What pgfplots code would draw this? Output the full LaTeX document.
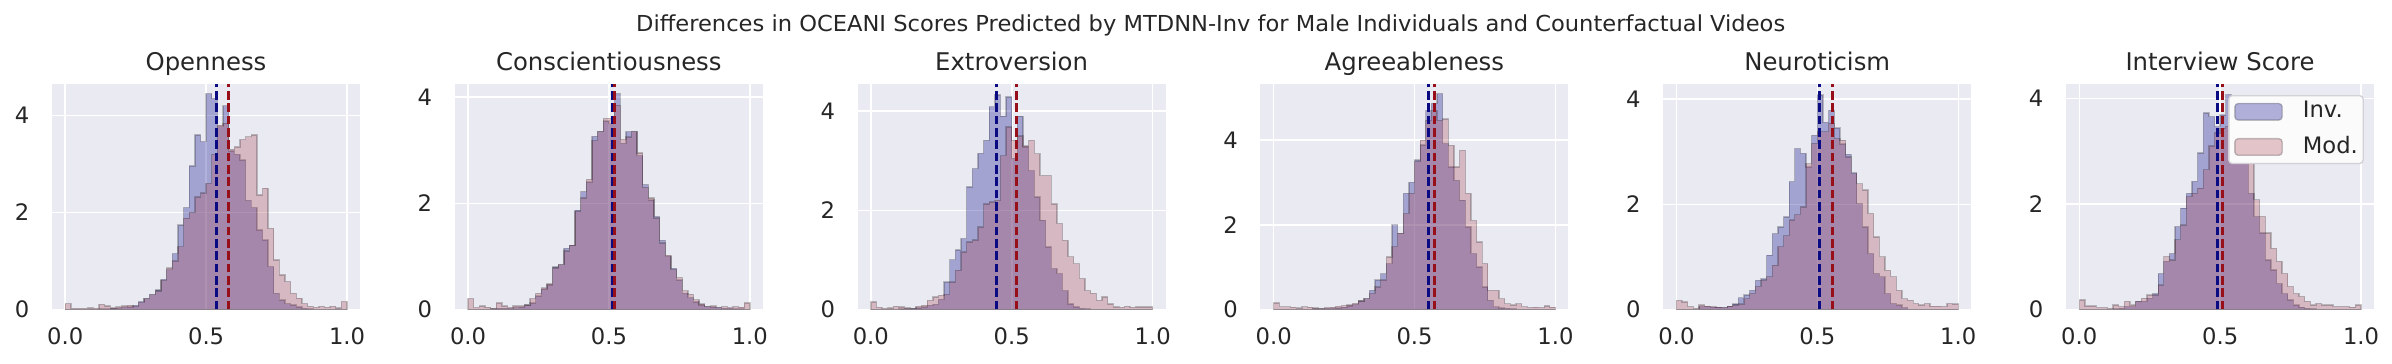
\documentclass[border=0pt]{standalone}
\usepackage{fontspec}
\setmainfont{DejaVu Sans}
\usepackage{graphicx}
\usepackage{xcolor}
\usepackage{pgfplots}
\usepackage{pgfplotstable}
\pgfplotsset{compat=1.18}

\definecolor{sbbg}{RGB}{234,234,242}
\definecolor{txt}{RGB}{38,38,38}
\definecolor{invfill}{RGB}{0,0,139}
\definecolor{modfill}{RGB}{171,71,85}
\definecolor{invline}{RGB}{10,10,130}
\definecolor{modline}{RGB}{150,15,25}
\definecolor{legedge}{RGB}{210,210,214}

\newcommand\titlefont{\fontsize{7.3}{8.5}\selectfont}
\newcommand\tickfont{\fontsize{6.8}{8}\selectfont}

% histogram densities, bins of 0.02 (left edges), last row closes the last bin
\pgfplotstableread{
x    inv  mod
0.00 0.00 0.12
0.02 0.00 0.02
0.04 0.00 0.02
0.06 0.00 0.02
0.08 0.00 0.03
0.10 0.00 0.02
0.12 0.01 0.10
0.14 0.01 0.07
0.16 0.02 0.03
0.18 0.02 0.05
0.20 0.04 0.07
0.22 0.05 0.08
0.24 0.08 0.06
0.26 0.16 0.14
0.28 0.22 0.22
0.30 0.30 0.30
0.32 0.40 0.38
0.34 0.62 0.60
0.36 0.82 0.85
0.38 1.15 1.00
0.40 1.74 1.29
0.42 2.10 1.88
0.44 2.96 2.00
0.46 3.60 2.32
0.48 3.46 2.40
0.50 4.45 2.60
0.52 4.35 3.20
0.54 3.77 3.80
0.56 4.20 3.84
0.58 3.27 3.30
0.60 3.20 3.35
0.62 3.08 3.50
0.64 2.25 3.56
0.66 2.10 3.60
0.68 1.64 2.36
0.70 1.43 2.50
0.72 0.88 1.67
0.74 0.33 1.02
0.76 0.19 0.71
0.78 0.12 0.57
0.80 0.09 0.33
0.82 0.05 0.23
0.84 0.02 0.12
0.86 0.01 0.06
0.88 0.00 0.04
0.90 0.00 0.06
0.92 0.00 0.04
0.94 0.00 0.06
0.96 0.00 0.03
0.98 0.00 0.16
1.00 0.00 0.16
}\tabO

\pgfplotstableread{
x    inv  mod
0.00 0.00 0.20
0.02 0.00 0.03
0.04 0.00 0.06
0.06 0.00 0.04
0.08 0.01 0.02
0.10 0.02 0.12
0.12 0.02 0.06
0.14 0.02 0.03
0.16 0.03 0.06
0.18 0.04 0.06
0.20 0.08 0.08
0.22 0.12 0.20
0.24 0.25 0.30
0.26 0.38 0.40
0.28 0.46 0.48
0.30 0.80 0.78
0.32 0.84 0.84
0.34 1.15 1.10
0.36 1.21 1.21
0.38 1.87 1.85
0.40 2.22 2.10
0.42 2.40 2.45
0.44 3.26 3.18
0.46 3.35 3.35
0.48 3.55 3.60
0.50 3.50 3.60
0.52 4.07 3.85
0.54 3.13 3.20
0.56 3.35 3.25
0.58 3.35 3.35
0.60 2.90 2.95
0.62 2.35 2.30
0.64 2.06 2.10
0.66 1.75 1.72
0.68 1.30 1.25
0.70 1.00 1.02
0.72 0.77 0.75
0.74 0.55 0.60
0.76 0.30 0.35
0.78 0.22 0.28
0.80 0.14 0.18
0.82 0.08 0.10
0.84 0.05 0.05
0.86 0.04 0.06
0.88 0.03 0.03
0.90 0.02 0.05
0.92 0.02 0.03
0.94 0.01 0.05
0.96 0.01 0.04
0.98 0.00 0.12
1.00 0.00 0.12
}\tabC

\pgfplotstableread{
x    inv  mod
0.00 0.00 0.15
0.02 0.00 0.04
0.04 0.00 0.02
0.06 0.00 0.03
0.08 0.00 0.06
0.10 0.01 0.05
0.12 0.01 0.03
0.14 0.02 0.02
0.16 0.03 0.06
0.18 0.05 0.08
0.20 0.08 0.18
0.22 0.10 0.25
0.24 0.20 0.28
0.26 0.55 0.30
0.28 1.00 0.55
0.30 1.20 0.79
0.32 1.43 1.16
0.34 2.47 1.36
0.36 2.84 1.40
0.38 3.15 1.66
0.40 3.41 2.13
0.42 4.09 2.17
0.44 4.33 2.20
0.46 3.90 3.10
0.48 4.29 3.68
0.50 3.05 3.41
0.52 3.90 3.50
0.54 3.28 3.30
0.56 2.80 3.41
0.58 2.27 3.14
0.60 1.80 2.70
0.62 1.26 2.70
0.64 0.82 2.13
0.66 0.72 1.73
0.68 0.38 1.39
0.70 0.11 1.06
0.72 0.05 0.92
0.74 0.02 0.62
0.76 0.01 0.38
0.78 0.00 0.32
0.80 0.00 0.18
0.82 0.00 0.25
0.84 0.00 0.11
0.86 0.00 0.05
0.88 0.00 0.04
0.90 0.00 0.06
0.92 0.00 0.04
0.94 0.00 0.05
0.96 0.00 0.05
0.98 0.00 0.05
1.00 0.00 0.05
}\tabE

\pgfplotstableread{
x    inv  mod
0.00 0.00 0.15
0.02 0.00 0.06
0.04 0.00 0.06
0.06 0.00 0.05
0.08 0.00 0.03
0.10 0.00 0.06
0.12 0.00 0.05
0.14 0.01 0.03
0.16 0.01 0.02
0.18 0.02 0.04
0.20 0.02 0.05
0.22 0.03 0.07
0.24 0.05 0.09
0.26 0.08 0.10
0.28 0.12 0.14
0.30 0.20 0.20
0.32 0.25 0.25
0.34 0.45 0.37
0.36 0.69 0.53
0.38 0.84 0.69
0.40 1.08 1.24
0.42 2.00 1.48
0.44 1.79 1.80
0.46 2.74 2.26
0.48 3.00 2.74
0.50 3.53 3.50
0.52 3.89 4.00
0.54 4.70 4.47
0.56 4.87 4.70
0.58 5.10 4.47
0.60 3.92 4.50
0.62 3.37 3.88
0.64 3.05 3.37
0.66 2.58 3.76
0.68 1.95 2.74
0.70 1.32 2.10
0.72 1.00 1.59
0.74 0.53 1.08
0.76 0.21 0.45
0.78 0.06 0.45
0.80 0.03 0.25
0.82 0.02 0.13
0.84 0.01 0.10
0.86 0.00 0.13
0.88 0.00 0.06
0.90 0.00 0.04
0.92 0.00 0.05
0.94 0.00 0.04
0.96 0.00 0.08
0.98 0.00 0.05
1.00 0.00 0.05
}\tabA

\pgfplotstableread{
x    inv  mod
0.00 0.00 0.17
0.02 0.00 0.14
0.04 0.00 0.05
0.06 0.00 0.02
0.08 0.05 0.08
0.10 0.05 0.06
0.12 0.04 0.05
0.14 0.04 0.04
0.16 0.03 0.03
0.18 0.06 0.06
0.20 0.10 0.08
0.22 0.22 0.10
0.24 0.27 0.20
0.26 0.36 0.30
0.28 0.55 0.43
0.30 0.58 0.55
0.32 1.03 0.62
0.34 1.44 0.84
0.36 1.57 1.19
0.38 1.76 1.40
0.40 2.43 1.70
0.42 3.06 1.80
0.44 2.97 1.95
0.46 2.71 2.77
0.48 3.31 3.16
0.50 4.08 3.38
0.52 3.56 3.38
0.54 3.79 3.54
0.56 3.45 3.25
0.58 3.15 3.22
0.60 2.95 2.90
0.62 2.60 2.58
0.64 2.01 2.39
0.66 1.57 2.27
0.68 1.06 1.82
0.70 0.68 1.38
0.72 0.62 1.00
0.74 0.30 0.74
0.76 0.11 0.62
0.78 0.08 0.36
0.80 0.03 0.20
0.82 0.00 0.17
0.84 0.00 0.11
0.86 0.00 0.08
0.88 0.00 0.11
0.90 0.00 0.06
0.92 0.00 0.06
0.94 0.00 0.05
0.96 0.00 0.11
0.98 0.00 0.10
1.00 0.00 0.10
}\tabN

\pgfplotstableread{
x    inv  mod
0.00 0.00 0.18
0.02 0.00 0.06
0.04 0.00 0.06
0.06 0.00 0.03
0.08 0.00 0.03
0.10 0.00 0.02
0.12 0.01 0.08
0.14 0.02 0.05
0.16 0.05 0.15
0.18 0.05 0.08
0.20 0.15 0.15
0.22 0.15 0.21
0.24 0.21 0.27
0.26 0.30 0.27
0.28 0.68 0.46
0.30 0.91 1.00
0.32 1.06 0.94
0.34 1.57 1.32
0.36 1.92 1.60
0.38 2.20 2.14
0.40 2.43 2.20
0.42 2.97 2.30
0.44 3.73 2.65
0.46 3.66 3.10
0.48 3.47 3.35
0.50 3.69 3.44
0.52 4.08 3.47
0.54 3.47 3.22
0.56 3.20 3.06
0.58 2.84 2.78
0.60 2.20 2.78
0.62 1.76 2.08
0.64 1.45 1.76
0.66 0.94 1.45
0.68 0.75 1.16
0.70 0.49 0.91
0.72 0.30 0.68
0.74 0.18 0.43
0.76 0.08 0.30
0.78 0.04 0.24
0.80 0.02 0.15
0.82 0.01 0.08
0.84 0.00 0.11
0.86 0.00 0.08
0.88 0.00 0.08
0.90 0.00 0.05
0.92 0.00 0.05
0.94 0.00 0.05
0.96 0.00 0.04
0.98 0.00 0.08
1.00 0.00 0.08
}\tabI

\pgfplotsset{
  panel/.style={
    scale only axis, width=92.4pt, height=67.6pt,
    anchor=south west,
    xmin=-0.047, xmax=1.046, ymin=0,
    xtick={0,0.5,1}, xticklabels={0.0,0.5,1.0},
    ytick={0,2,4}, yticklabels={0,2,4},
    axis background/.style={fill=sbbg},
    axis line style={draw=none},
    major tick length=0pt,
    grid=major, major grid style={white, line width=0.45pt},
    tick label style={font=\tickfont, text=txt},
    xticklabel style={anchor=base, inner sep=0pt, yshift=-10.7pt},
    yticklabel style={anchor=east, inner sep=0pt, xshift=-6.6pt},
    every axis title/.style={at={(0.5,1)}, anchor=base, yshift=4.0pt, font=\titlefont, text=txt},
  },
  invhist/.style={const plot, fill=invfill, fill opacity=0.3, draw=black, draw opacity=0.22, line width=0.4pt},
  modhist/.style={const plot, fill=modfill, fill opacity=0.3, draw=black, draw opacity=0.22, line width=0.4pt},
  invmean/.style={invline, line width=0.9pt, dash pattern=on 2.6pt off 1.1pt, forget plot},
  modmean/.style={modline, line width=0.9pt, dash pattern=on 2.6pt off 1.1pt, forget plot},
}

\begin{document}
\begin{tikzpicture}
\useasboundingbox (0,0) rectangle (717.6pt,109.2pt);

\node[anchor=base, font=\fontsize{6.6}{8}\selectfont, text=txt, inner sep=0pt] at (363.2pt,99.6pt)
  {\resizebox{344.7pt}{\height}{Differences in OCEANI Scores Predicted by MTDNN-Inv for Male Individuals and Counterfactual Videos}};

\begin{axis}[panel, at={(15.6pt,16.4pt)}, ymax=4.65, title={Openness}]
\addplot[invhist] table[x=x, y=inv] {\tabO} \closedcycle;
\addplot[modhist] table[x=x, y=mod] {\tabO} \closedcycle;
\addplot[invmean] coordinates {(0.538,0) (0.538,4.65)};
\addplot[modmean] coordinates {(0.581,0) (0.581,4.65)};
\end{axis}

\begin{axis}[panel, at={(136.44pt,16.4pt)}, ymax=4.25, title={Conscientiousness}]
\addplot[invhist] table[x=x, y=inv] {\tabC} \closedcycle;
\addplot[modhist] table[x=x, y=mod] {\tabC} \closedcycle;
\addplot[invmean] coordinates {(0.513,0) (0.513,4.25)};
\addplot[modmean] coordinates {(0.521,0) (0.521,4.25)};
\end{axis}

\begin{axis}[panel, at={(257.28pt,16.4pt)}, ymax=4.55, title={Extroversion}]
\addplot[invhist] table[x=x, y=inv] {\tabE} \closedcycle;
\addplot[modhist] table[x=x, y=mod] {\tabE} \closedcycle;
\addplot[invmean] coordinates {(0.446,0) (0.446,4.55)};
\addplot[modmean] coordinates {(0.517,0) (0.517,4.55)};
\end{axis}

\begin{axis}[panel, at={(378.12pt,16.4pt)}, ymax=5.33, title={Agreeableness}]
\addplot[invhist] table[x=x, y=inv] {\tabA} \closedcycle;
\addplot[modhist] table[x=x, y=mod] {\tabA} \closedcycle;
\addplot[invmean] coordinates {(0.550,0) (0.550,5.33)};
\addplot[modmean] coordinates {(0.572,0) (0.572,5.33)};
\end{axis}

\begin{axis}[panel, at={(498.96pt,16.4pt)}, ymax=4.29, title={Neuroticism}]
\addplot[invhist] table[x=x, y=inv] {\tabN} \closedcycle;
\addplot[modhist] table[x=x, y=mod] {\tabN} \closedcycle;
\addplot[invmean] coordinates {(0.509,0) (0.509,4.29)};
\addplot[modmean] coordinates {(0.553,0) (0.553,4.29)};
\end{axis}

\begin{axis}[panel, at={(619.8pt,16.4pt)}, ymax=4.28, title={Interview Score},
  legend style={at={(0.967,0.951)}, anchor=north east, draw=legedge, fill=white!80!sbbg,
    rounded corners=1pt, line width=0.4pt, font=\tickfont, text=txt,
    inner xsep=1.6pt, inner ysep=1.6pt, row sep=4.0pt, nodes={inner sep=0pt},
    /tikz/every odd column/.append style={column sep=6pt}},
  legend cell align=left,
  legend image code/.code={\draw[#1] (0pt,-2.5pt) rectangle (14.2pt,2.5pt);}]
\addplot[invhist] table[x=x, y=inv] {\tabI} \closedcycle;
\addplot[modhist] table[x=x, y=mod] {\tabI} \closedcycle;
\addplot[invmean] coordinates {(0.489,0) (0.489,4.28)};
\addplot[modmean] coordinates {(0.508,0) (0.508,4.28)};
\legend{Inv.,Mod.}
\end{axis}
\end{tikzpicture}
\end{document}
